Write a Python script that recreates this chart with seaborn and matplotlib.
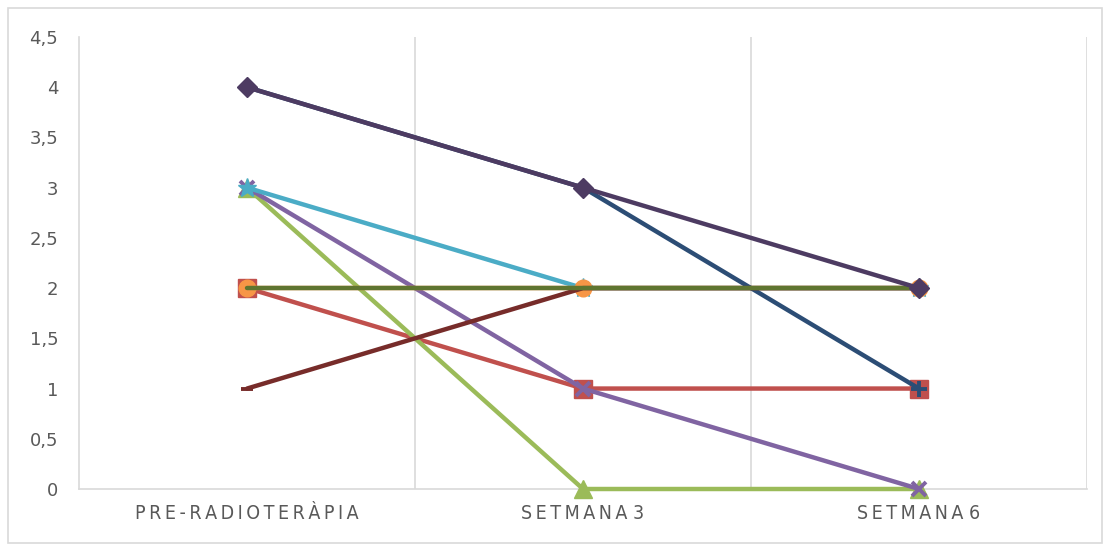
import matplotlib
matplotlib.use("Agg")
import matplotlib.pyplot as plt
import seaborn as sns
import pandas as pd
from matplotlib.patches import Rectangle

sns.set_theme(style="white")
plt.rcParams['font.family'] = ['DejaVu Sans']

categories = ["PRE-RADIOTERÀPIA", "SETMANA 3", "SETMANA 6"]

# series values, in drawing order (bottom to top)
serie_vermella = [2, 1, 1]
serie_verda = [3, 0, 0]
serie_lila = [3, 1, 0]
serie_aigua = [3, 2, 2]
serie_taronja = [2, 2, 2]
serie_blau_fosc = [4, 3, 1]
serie_granat = [1, 2, 2]
serie_oliva = [2, 2, 2]
serie_morat = [4, 3, 2]

series = [
    ("vermella", serie_vermella, "#C0504D", "s", 13),
    ("verda", serie_verda, "#9BBB59", "^", 13),
    ("lila", serie_lila, "#8064A2", "x", 10),
    ("aigua", serie_aigua, "#4BACC6", "*", 14),
    ("taronja", serie_taronja, "#F79646", "o", 12),
    ("blau_fosc", serie_blau_fosc, "#2C4D75", "+", 12),
    ("granat", serie_granat, "#772C2A", "_", 9),
    ("oliva", serie_oliva, "#5F7530", None, 0),
    ("morat", serie_morat, "#4D3B62", "D", 10),
]

y_ticks = [0, 0.5, 1, 1.5, 2, 2.5, 3, 3.5, 4, 4.5]
y_tick_labels = ["0", "0,5", "1", "1,5", "2", "2,5", "3", "3,5", "4", "4,5"]


def spaced(text):
    # widen the tracking of the category labels, words keep a plain space
    return " ".join("\u2009".join(word) for word in text.split(" "))


fig = plt.figure(figsize=(11.1, 5.44), dpi=100)
ax = fig.add_axes([0.0712, 0.1011, 0.9793 - 0.0712, 0.932 - 0.1011])

for i, (name, vals, color, marker, ms) in enumerate(series):
    df = pd.DataFrame({"x": list(range(len(categories))), "y": vals})
    if marker is None:
        kw = {}
    else:
        kw = dict(marker=marker, markersize=ms, markeredgecolor=color,
                  markerfacecolor=color,
                  markeredgewidth=2.8 if marker in ("x", "+", "_") else 1)
    sns.lineplot(data=df, x="x", y="y", ax=ax, color=color, linewidth=3.2,
                 zorder=3 + i, clip_on=False, **kw)

ax.set_xlim(-0.5, 2.5)
ax.set_ylim(0, 4.5)
ax.set_xticks(range(len(categories)))
ax.set_xticklabels([spaced(c) for c in categories])
ax.set_yticks(y_ticks)
ax.set_yticklabels(y_tick_labels)
ax.set_xlabel("")
ax.set_ylabel("")

for xv in [0.5, 1.5, 2.5]:
    ax.axvline(xv, color="#D9D9D9", linewidth=1.2, zorder=1)

for side in ["top", "right"]:
    ax.spines[side].set_visible(False)
ax.spines["left"].set_color("#D9D9D9")
ax.spines["bottom"].set_color("#D9D9D9")
ax.spines["left"].set_linewidth(1.2)
ax.spines["bottom"].set_linewidth(1.2)

ax.tick_params(axis="y", length=0, pad=15, labelsize=13, labelcolor="#595959")
ax.tick_params(axis="x", length=0, pad=11, labelsize=14, labelcolor="#595959")
for lbl in ax.get_xticklabels():
    lbl.set_fontstretch("condensed")

fig.patches.append(Rectangle((8 / 1110, 1 / 544), 1094 / 1110, 535 / 544,
                             transform=fig.transFigure, fill=False,
                             edgecolor="#D9D9D9", linewidth=1.2))

fig.savefig("out.png", dpi=100, facecolor="white")
